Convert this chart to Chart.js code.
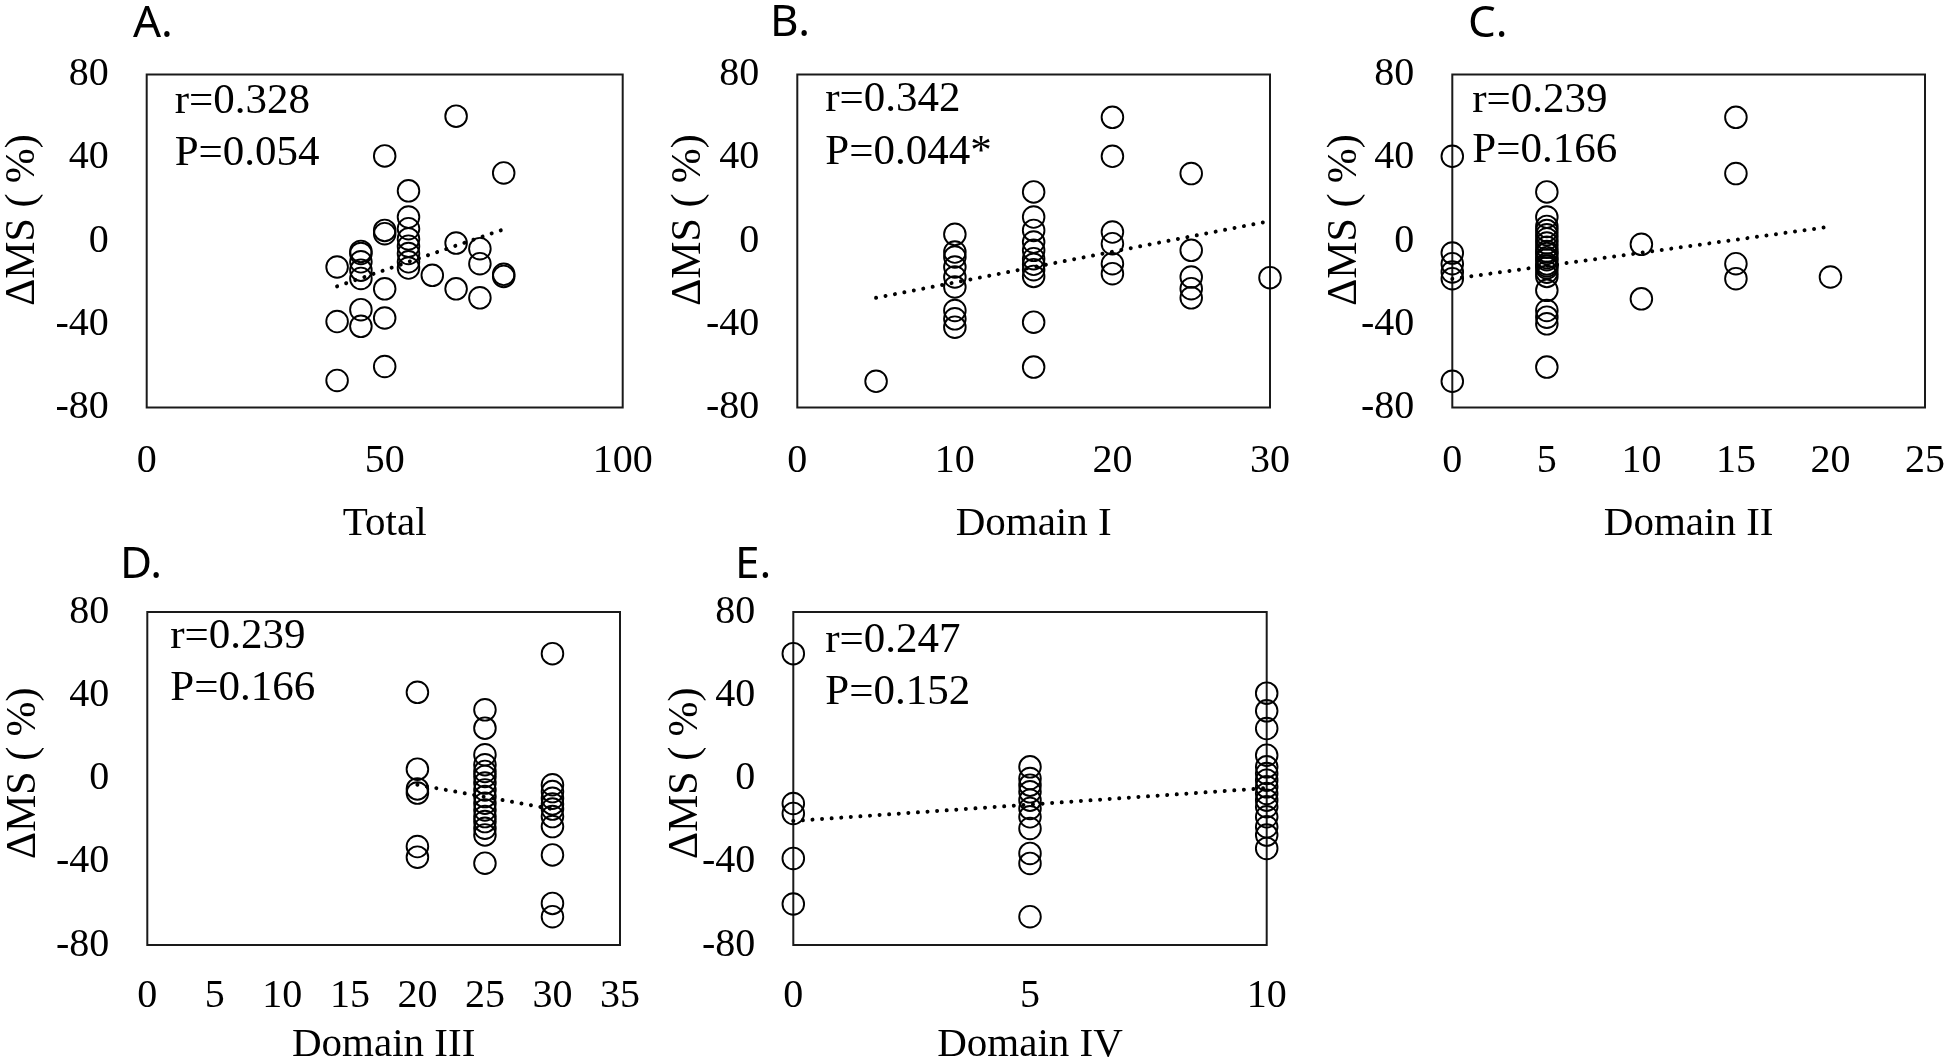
<!DOCTYPE html>
<html><head><meta charset="utf-8">
<script src="https://cdn.jsdelivr.net/npm/chart.js@4.4.1/dist/chart.umd.min.js"></script>
<style>
html,body{margin:0;padding:0;background:#fff;width:1946px;height:1062px;overflow:hidden;}
.panel{position:absolute;}
canvas{display:block;}
</style></head><body>
<div class="panel" style="left:0px;top:0px;width:660px;height:560px"><canvas id="cA" width="660" height="560"></canvas></div>
<div class="panel" style="left:660px;top:0px;width:650px;height:560px"><canvas id="cB" width="650" height="560"></canvas></div>
<div class="panel" style="left:1310px;top:0px;width:636px;height:560px"><canvas id="cC" width="636" height="560"></canvas></div>
<div class="panel" style="left:0px;top:530px;width:660px;height:532px"><canvas id="cD" width="660" height="532"></canvas></div>
<div class="panel" style="left:660px;top:530px;width:650px;height:532px"><canvas id="cE" width="650" height="532"></canvas></div>
<script>
// ---------------- DATA ----------------
const yTickValues = [-80, -40, 0, 40, 80];
const yAxisTitle = 'ΔMS ( %)';

// A. Total
const totalScore = [40,40,40, 45,45,45,45,45,45,45, 50,50,50,50,50,50, 55,55,55,55,55,55,55,55, 60, 65,65,65, 70,70,70, 75,75,75];
const dmsTotal   = [-12.5,-38.7,-67, -5,-6,-10,-14,-18,-33,-41, 40.9,5.1,3.5,-23,-37,-60.3, 24.1,11.5,5.9,1,-2.5,-6,-10,-13, -16.5, 60,-1,-23, -3.7,-10.9,-27.3, 32.7,-16,-17];
const trendTotalX = [40, 75];
const trendTotalY = [-21.8, 5.6];
const totalTicks = [0, 50, 100];

// B. Domain I
const domain1Score = [5, 10,10,10,10,10,10,10,10,10, 15,15,15,15,15,15,15,15,15,15,15, 20,20,20,20,20,20, 25,25,25,25,25, 30];
const dmsDomain1   = [-67.4, 3.2,-5.3,-7.7,-12.5,-17.3,-22.1,-33.4,-37.4,-41.4, 23.6,11.5,5.1,-0.5,-4.5,-8.5,-11.2,-13.8,-17,-39,-60.6, 59.4,40.7,4.3,-1.3,-10.9,-15.7, 32.4,-4.5,-17.3,-22.9,-27.3, -17.6];
const trendDomain1X = [5, 30];
const trendDomain1Y = [-27.3, 9.6];
const domain1Ticks = [0, 10, 20, 30];

// C. Domain II
const domain2Score = [0,0,0,0,0,0, 5,5,5,5,5,5,5,5,5,5,5,5,5,5,5,5,5,5,5,5,5,5, 10,10, 15,15,15,15, 20];
const dmsDomain2   = [40.7,-5.8,-10.9,-14.9,-18.1,-67.4, 23.6,11.5,7,5,3,1,-1,-3,-5,-6,-8,-9,-11,-12,-13,-15,-17,-23.7,-33.4,-36.6,-39.8,-60.6, -1.6,-27.8, 59.4,32.4,-10.9,-18.1, -17.3];
const trendDomain2X = [0, 20];
const trendDomain2Y = [-18.2, 6.9];
const domain2Ticks = [0, 5, 10, 15, 20, 25];

// D. Domain III
const domain3Score = [20,20,20,20,20,20, 25,25,25,25,25,25,25,25,25,25,25,25,25,25,25,25, 30,30,30,30,30,30,30,30,30,30,30];
const dmsDomain3   = [41.4,4.5,-5,-7,-32.7,-37.8, 33,24.2,11.4,6.6,3.4,1,-2.2,-5.5,-8.7,-11.9,-15.1,-18.3,-20.7,-23.9,-27.1,-40.7, 60,-3,-6.3,-9.5,-12.2,-14.7,-18.3,-23.1,-36.7,-60,-66.4];
const trendDomain3X = [20, 30];
const trendDomain3Y = [-3.0, -14.7];
const domain3Ticks = [0, 5, 10, 15, 20, 25, 30, 35];

// E. Domain IV
const domain4Score = [0,0,0,0,0, 5,5,5,5,5,5,5,5,5,5,5, 10,10,10,10,10,10,10,10,10,10,10,10,10,10,10];
const dmsDomain4   = [60,-12,-16.8,-38.4,-60.3, 5.6,0,-3.2,-6.4,-10.4,-14.4,-18.4,-24,-36,-40.8,-66.4, 41,32.5,24,11.2,5.6,2.4,-0.8,-4,-7.2,-10.4,-13.6,-18.4,-23.2,-27.2,-33.6];
const trendDomain4X = [0, 10];
const trendDomain4Y = [-20.4, -4.6];
const domain4Ticks = [0, 5, 10];

const panelLetters = ['A.', 'B.', 'C.', 'D.', 'E.'];
const statR = ['r=0.328', 'r=0.342', 'r=0.239', 'r=0.239', 'r=0.247'];
const statP = ['P=0.054', 'P=0.044*', 'P=0.166', 'P=0.166', 'P=0.152'];
const xTitles = ['Total', 'Domain I', 'Domain II', 'Domain III', 'Domain IV'];

// ---------------- LAYOUT (positions/styles only) ----------------
const SERIF = '"Liberation Serif", "Times New Roman", serif';
const SANS = '"Noto Sans", "Liberation Sans", sans-serif';

const panelPlugin = {
  id: 'panelDeco',
  beforeDatasetsDraw(chart) {
    const {ctx, chartArea: a} = chart;
    ctx.save();
    ctx.lineWidth = 2;
    ctx.strokeStyle = '#1a1a1a';
    ctx.strokeRect(a.left, a.top, a.right - a.left, a.bottom - a.top);
    ctx.restore();
  },
  afterDraw(chart, args, o) {
    const {ctx, chartArea: a} = chart;
    ctx.save();
    ctx.fillStyle = '#000';
    ctx.textAlign = 'left';
    ctx.textBaseline = 'alphabetic';
    ctx.font = '44px ' + SANS;
    ctx.fillText(o.letter, a.left + o.letterDx, a.top + o.letterDy);
    ctx.font = '43px ' + SERIF;
    ctx.fillText(o.r, a.left + o.statDx, a.top + o.rDy);
    ctx.fillText(o.p, a.left + o.statDx, a.top + o.pDy);
    ctx.restore();
  }
};

function makePanel(id, idx, xs, ys, tx, ty, xTicks, xMin, xMax, g) {
  const pts = xs.map((x, i) => ({x: x, y: ys[i]}));
  const trend = tx.map((x, i) => ({x: x, y: ty[i]}));
  return new Chart(document.getElementById(id), {
    type: 'scatter',
    data: {
      datasets: [
        {
          label: 'Linear trend',
          data: trend,
          showLine: true,
          borderColor: '#000',
          borderWidth: 4,
          borderDash: [0.01, 9.6],
          borderCapStyle: 'round',
          pointRadius: 0,
          fill: false,
          clip: false
        },
        {
          label: 'ΔMS',
          data: pts,
          showLine: false,
          pointStyle: 'circle',
          pointRadius: 10.8,
          pointBorderWidth: 1.9,
          pointBorderColor: '#000',
          pointBackgroundColor: 'rgba(255,255,255,0)',
          clip: false
        }
      ]
    },
    options: {
      responsive: false,
      animation: false,
      events: [],
      layout: {padding: {left: 0, top: g.top, right: g.right, bottom: 0}},
      plugins: {
        legend: {display: false},
        tooltip: {enabled: false},
        panelDeco: {
          letter: panelLetters[idx], r: statR[idx], p: statP[idx],
          letterDx: g.letterDx, letterDy: g.letterDy,
          statDx: g.statDx, rDy: g.rDy, pDy: g.pDy
        }
      },
      scales: {
        x: {
          type: 'linear', min: xMin, max: xMax,
          afterBuildTicks: s => { s.ticks = xTicks.map(v => ({value: v})); },
          grid: {display: false, drawTicks: false},
          border: {display: false},
          ticks: {color: '#000', font: {family: SERIF, size: 40}, padding: g.xTickPad, maxRotation: 0, autoSkip: false},
          title: {display: true, text: xTitles[idx], color: '#000',
                  font: {family: SERIF, size: 41, lineHeight: 0.5}, padding: {top: 0, bottom: g.xTitlePad}},
          afterFit: s => { s.height = g.xH; s.paddingLeft = 0; s.paddingRight = 0; }
        },
        y: {
          type: 'linear', min: -80, max: 80,
          afterBuildTicks: s => { s.ticks = yTickValues.map(v => ({value: v})); },
          grid: {display: false, drawTicks: false},
          border: {display: false},
          ticks: {color: '#000', font: {family: SERIF, size: 40}, padding: 38},
          title: {display: true, text: ' '.repeat(g.yTitleShift) + yAxisTitle, color: '#000',
                  font: {family: SERIF, size: 42, lineHeight: 1}, padding: {top: g.yTitlePad, bottom: 0}},
          afterFit: s => { s.width = g.yW; s.paddingTop = 0; s.paddingBottom = 0; }
        }
      }
    },
    plugins: [panelPlugin]
  });
}

makePanel('cA', 0, totalScore, dmsTotal, trendTotalX, trendTotalY, totalTicks, 0, 100,
  {top: 74.5, right: 37.3, xH: 152.5, yW: 146.7, xTickPad: 29.5, xTitlePad: 26, yTitlePad: 2, yTitleShift: 4,
   letterDx: -13.7, letterDy: -37.8, statDx: 28, rDy: 38.8, pDy: 90.5});
makePanel('cB', 1, domain1Score, dmsDomain1, trendDomain1X, trendDomain1Y, domain1Ticks, 0, 30,
  {top: 74.5, right: 40, xH: 152.5, yW: 137.3, xTickPad: 29.5, xTitlePad: 26, yTitlePad: 7.5, yTitleShift: 4,
   letterDx: -27.3, letterDy: -38.5, statDx: 28, rDy: 36, pDy: 89});
makePanel('cC', 2, domain2Score, dmsDomain2, trendDomain2X, trendDomain2Y, domain2Ticks, 0, 25,
  {top: 74.5, right: 21, xH: 152.5, yW: 142.3, xTickPad: 29.5, xTitlePad: 26, yTitlePad: 14, yTitleShift: 4,
   letterDx: 15.7, letterDy: -37.5, statDx: 20, rDy: 37, pDy: 87});
makePanel('cD', 3, domain3Score, dmsDomain3, trendDomain3X, trendDomain3Y, domain3Ticks, 0, 35,
  {top: 82, right: 40, xH: 117, yW: 147.3, xTickPad: 27.5, xTitlePad: 7, yTitlePad: 3, yTitleShift: 1,
   letterDx: -27.3, letterDy: -34, statDx: 23, rDy: 36, pDy: 88});
makePanel('cE', 4, domain4Score, dmsDomain4, trendDomain4X, trendDomain4Y, domain4Ticks, 0, 10,
  {top: 82, right: 43.3, xH: 117, yW: 133.3, xTickPad: 27.5, xTitlePad: 7, yTitlePad: 5, yTitleShift: 1,
   letterDx: -58.3, letterDy: -34, statDx: 32, rDy: 40, pDy: 92});
</script>
</body></html>
